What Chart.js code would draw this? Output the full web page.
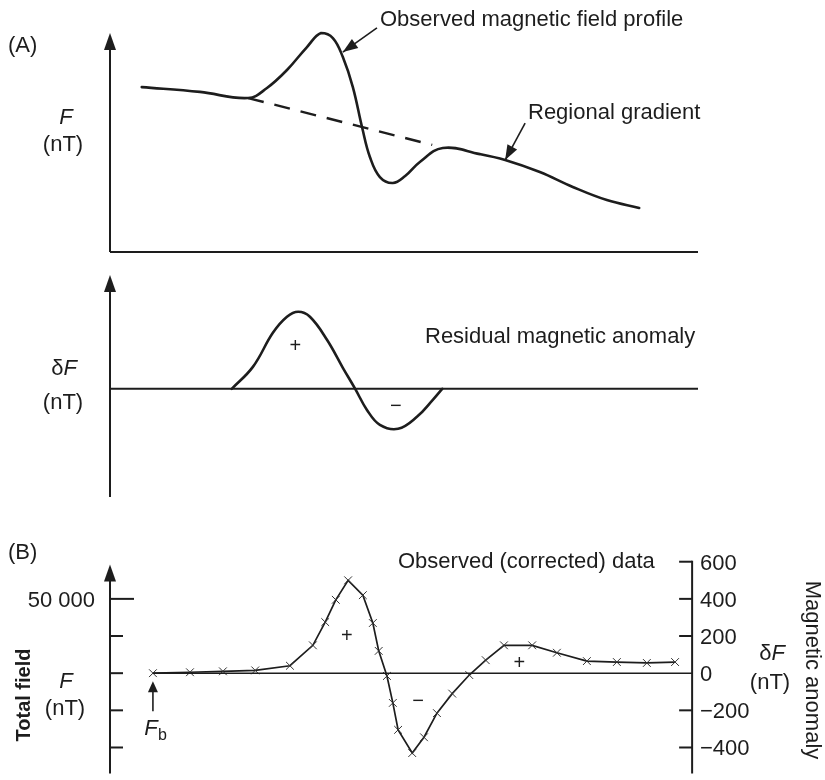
<!DOCTYPE html>
<html>
<head>
<meta charset="utf-8">
<script src="https://cdn.jsdelivr.net/npm/chart.js@4.4.0/dist/chart.umd.min.js"></script>
<style>
    body { margin: 0; background: #fff; }
    .panel { position: absolute; left: 0; width: 825px; height: 260px; }
</style>
</head>
<body>
<div class="panel" style="top:0"><canvas id="chartA1" width="825" height="260"></canvas></div>
<div class="panel" style="top:260px"><canvas id="chartA2" width="825" height="260"></canvas></div>
<div class="panel" style="top:520px"><canvas id="chartB" width="825" height="260"></canvas></div>
<script>
// Panel A (top): observed profile and regional gradient, arbitrary units
const profileX = [5.4, 15.3, 23.5, 26.7, 30.1, 33.5, 35.9, 37.9, 39.6, 41.3, 42.9, 44.2, 45.9, 48.1, 50.2, 52.7, 56.6, 62.9, 67.2, 73.1, 78.7, 84.5, 90.0];
const profileF = [75.3, 73.1, 70.3, 74.9, 83.1, 93.6, 100, 97.7, 89.0, 75.3, 56.6, 43.4, 34.2, 31.5, 34.7, 41.1, 47.5, 44.7, 42.0, 36.5, 29.7, 23.7, 20.1];
const regionalX = [23.5, 54.8];
const regionalF = [70.3, 48.9];

// Panel A (bottom): residual anomaly
const residualX = [20.7, 24.3, 27.7, 30.1, 32.0, 34.0, 36.9, 39.6, 41.7, 43.7, 45.9, 49.0, 52.2, 54.9, 56.5];
const residualF = [0, 19.3, 49.2, 63.3, 67.7, 63.3, 43.1, 18.5, 0, -18.5, -31.6, -35.1, -24.6, -9.7, 0];

// Panel B: station readings (nT)
const stationX = [7.3, 13.6, 19.2, 24.7, 30.6, 34.5, 36.6, 38.4, 40.5, 43.0, 44.7, 45.7, 47.1, 48.1, 49.0, 51.4, 53.4, 55.6, 58.2, 61.1, 63.9, 67.0, 71.8, 76.0, 81.1, 86.2, 91.3, 96.1];
const anomalyNT = [0, 5, 10, 15, 40, 150, 275, 395, 500, 420, 270, 120, -15, -160, -305, -430, -345, -215, -110, -10, 70, 150, 150, 110, 65, 60, 55, 60];
const anomalyTicks = [-400, -200, 0, 200, 400, 600];
const anomalyTickLabels = ['\u2212400', '\u2212200', '0', '200', '400', '600'];
const baseField = 49600;
const totalFieldTicks = [49200, 49400, 49600, 49800, 50000];
const totalFieldLabels = ['', '', '', '', '50 000'];

const INK = '#1d1d1d';
const FONT = '"Liberation Sans", Arial, sans-serif';

function toPoints(xs, ys) {
    return xs.map((x, i) => ({ x: x, y: ys[i] }));
}

function line(ctx, x1, y1, x2, y2, w) {
    ctx.save();
    ctx.strokeStyle = INK;
    ctx.lineWidth = w;
    ctx.beginPath();
    ctx.moveTo(x1, y1);
    ctx.lineTo(x2, y2);
    ctx.stroke();
    ctx.restore();
}

function arrowHead(ctx, x, y, angle, len, half) {
    ctx.save();
    ctx.fillStyle = INK;
    ctx.translate(x, y);
    ctx.rotate(angle);
    ctx.beginPath();
    ctx.moveTo(0, 0);
    ctx.lineTo(-len, -half);
    ctx.lineTo(-len, half);
    ctx.closePath();
    ctx.fill();
    ctx.restore();
}

// pointer line with filled head at (x2, y2)
function pointer(ctx, x1, y1, x2, y2) {
    line(ctx, x1, y1, x2, y2, 1.6);
    arrowHead(ctx, x2, y2, Math.atan2(y2 - y1, x2 - x1), 15, 5.5);
}

function upAxis(ctx, x, yBottom, yTip) {
    line(ctx, x, yBottom, x, yTip + 10, 2);
    arrowHead(ctx, x, yTip, -Math.PI / 2, 17, 6);
}

function text(ctx, str, x, y, font, align) {
    ctx.save();
    ctx.fillStyle = INK;
    ctx.font = font || ('22px ' + FONT);
    ctx.textAlign = align || 'left';
    ctx.textBaseline = 'alphabetic';
    ctx.fillText(str, x, y);
    ctx.restore();
}

function rotText(ctx, str, x, y, angle, font) {
    ctx.save();
    ctx.fillStyle = INK;
    ctx.translate(x, y);
    ctx.rotate(angle);
    ctx.font = font;
    ctx.textAlign = 'center';
    ctx.textBaseline = 'middle';
    ctx.fillText(str, 0, 0);
    ctx.restore();
}

// "δF" with italic F, centred on cx
function deltaF(ctx, cx, y) {
    ctx.save();
    ctx.font = '22px ' + FONT;
    const w1 = ctx.measureText('\u03b4').width;
    ctx.font = 'italic 22px ' + FONT;
    const w2 = ctx.measureText('F').width;
    ctx.restore();
    const left = cx - (w1 + w2) / 2;
    text(ctx, '\u03b4', left, y);
    text(ctx, 'F', left + w1, y, 'italic 22px ' + FONT);
}

function sign(ctx, str, x, y) {
    text(ctx, str, x, y, '20px ' + FONT, 'center');
}

function baseOptions(padding, xMax, yMin, yMax, extraScales) {
    const scales = {
        x: { type: 'linear', display: false, min: 0, max: xMax },
        y: { type: 'linear', display: false, min: yMin, max: yMax }
    };
    Object.assign(scales, extraScales || {});
    return {
        responsive: false,
        animation: false,
        layout: { padding: padding },
        plugins: { legend: { display: false }, tooltip: { enabled: false } },
        scales: scales
    };
}

const solid = {
    borderColor: INK,
    borderWidth: 2.6,
    pointRadius: 0,
    fill: false,
    clip: false,
    tension: 0.4,
    borderJoinStyle: 'round',
    borderCapStyle: 'round'
};

// Panel A top
const panelA1 = {
    id: 'panelA1',
    afterDraw(chart) {
        const { ctx, scales: { x, y } } = chart;
        const x0 = x.getPixelForValue(0), y0 = y.getPixelForValue(0);
        line(ctx, x0, y0, x.getPixelForValue(100), y0, 2);
        upAxis(ctx, x0, y0, y.getPixelForValue(100));

        text(ctx, '(A)', 8, 52);
        text(ctx, 'F', 66, 124, 'italic 22px ' + FONT, 'center');
        text(ctx, '(nT)', 63, 151, '22px ' + FONT, 'center');

        text(ctx, 'Observed magnetic field profile', 380, 26);
        pointer(ctx, x.getPixelForValue(45.4), y.getPixelForValue(102.3),
            x.getPixelForValue(39.6), y.getPixelForValue(91.3));

        text(ctx, 'Regional gradient', 528, 119);
        pointer(ctx, x.getPixelForValue(70.6), y.getPixelForValue(58.9),
            x.getPixelForValue(67.2), y.getPixelForValue(42.0));
    }
};

new Chart(document.getElementById('chartA1'), {
    type: 'line',
    data: {
        datasets: [
            Object.assign({ data: toPoints(profileX, profileF) }, solid),
            Object.assign({}, solid, { data: toPoints(regionalX, regionalF), tension: 0, borderDash: [16, 11], borderCapStyle: 'butt', borderWidth: 2.4 })
        ]
    },
    options: baseOptions({ left: 110, right: 127, top: 33, bottom: 8 }, 100, 0, 100),
    plugins: [panelA1]
});

// Panel A bottom
const panelA2 = {
    id: 'panelA2',
    afterDraw(chart) {
        const { ctx, scales: { x, y } } = chart;
        const x0 = x.getPixelForValue(0), yz = y.getPixelForValue(0);
        line(ctx, x0, yz, x.getPixelForValue(100), yz, 2);
        upAxis(ctx, x0, y.getPixelForValue(-95), y.getPixelForValue(100));

        deltaF(ctx, 64, 115);
        text(ctx, '(nT)', 63, 149, '22px ' + FONT, 'center');
        text(ctx, 'Residual magnetic anomaly', 425, 83);
        sign(ctx, '+', x.getPixelForValue(31.5), y.getPixelForValue(32));
        sign(ctx, '\u2212', x.getPixelForValue(48.6), y.getPixelForValue(-20));
    }
};

new Chart(document.getElementById('chartA2'), {
    type: 'line',
    data: {
        datasets: [
            Object.assign({ data: toPoints(residualX, residualF) }, solid)
        ]
    },
    options: baseOptions({ left: 110, right: 127, top: 15, bottom: 23 }, 100, -95, 100),
    plugins: [panelA2]
});

// Panel B
const panelB = {
    id: 'panelB',
    afterDraw(chart) {
        const { ctx, scales: { x, y, yF } } = chart;
        const x0 = x.getPixelForValue(0), xr = x.getPixelForValue(99);
        const bottom = chart.chartArea.bottom;

        // total field axis (left)
        upAxis(ctx, x0, bottom, y.getPixelForValue(585));
        totalFieldTicks.forEach((v, i) => {
            const py = yF.getPixelForValue(v);
            line(ctx, x0, py, x0 + (totalFieldLabels[i] ? 24 : 13), py, 2);
            if (totalFieldLabels[i]) {
                text(ctx, totalFieldLabels[i], 95, py + 8, '22px ' + FONT, 'right');
            }
        });

        // anomaly axis (right)
        line(ctx, xr, y.getPixelForValue(600) - 1, xr, bottom, 2);
        anomalyTicks.forEach((v, i) => {
            const py = y.getPixelForValue(v);
            if (v !== 0) line(ctx, xr - 13, py, xr, py, 2);
            text(ctx, anomalyTickLabels[i], 700, py + 8, '22px ' + FONT, 'left');
        });

        // zero line from base station
        const xs = x.getPixelForValue(stationX[0]), yz = y.getPixelForValue(0);
        line(ctx, xs, yz, xr, yz, 1.6);

        // base station arrow
        line(ctx, xs, yz + 38, xs, yz + 16, 1.6);
        arrowHead(ctx, xs, yz + 8, -Math.PI / 2, 11, 5);
        text(ctx, 'F', 151, 215, 'italic 22px ' + FONT, 'center');
        text(ctx, 'b', 158, 220, '16px ' + FONT, 'left');

        text(ctx, '(B)', 8, 39);
        rotText(ctx, 'Total field', 24, 175, -Math.PI / 2, 'bold 20px ' + FONT);
        text(ctx, 'F', 66, 168, 'italic 22px ' + FONT, 'center');
        text(ctx, '(nT)', 65, 195, '22px ' + FONT, 'center');

        text(ctx, 'Observed (corrected) data', 398, 48);
        deltaF(ctx, 772, 140);
        text(ctx, '(nT)', 770, 169, '22px ' + FONT, 'center');
        rotText(ctx, 'Magnetic anomaly', 812, 150, Math.PI / 2, '22px ' + FONT);

        sign(ctx, '+', x.getPixelForValue(40.3), y.getPixelForValue(170));
        sign(ctx, '+', x.getPixelForValue(69.6), y.getPixelForValue(25));
        sign(ctx, '\u2212', x.getPixelForValue(52.4), y.getPixelForValue(-180));
    }
};

new Chart(document.getElementById('chartB'), {
    type: 'line',
    data: {
        datasets: [{
            data: toPoints(stationX, anomalyNT),
            borderColor: INK,
            borderWidth: 1.7,
            tension: 0,
            fill: false,
            clip: false,
            pointStyle: 'crossRot',
            pointRadius: 5.5,
            pointBorderWidth: 1,
            pointBorderColor: '#333'
        }]
    },
    options: baseOptions({ left: 110, right: 127, top: 38, bottom: 3 }, 100, -540, 620, {
        yF: { type: 'linear', display: false, min: baseField - 540, max: baseField + 620 }
    }),
    plugins: [panelB]
});
</script>
</body>
</html>
